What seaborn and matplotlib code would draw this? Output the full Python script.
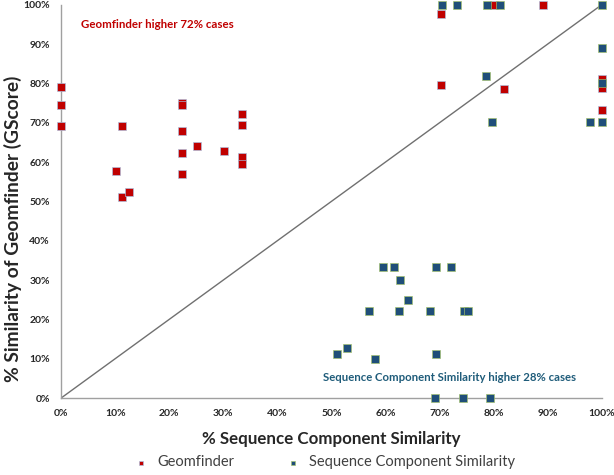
import pandas as pd
import matplotlib
matplotlib.use("Agg")
import matplotlib.pyplot as plt
import seaborn as sns

# Geomfinder points (x = % sequence component similarity, y = % geomfinder score)
geom_x = [0, 0, 0, 11.3, 22.3, 22.3, 22.3, 25.1, 22.3, 30.2, 22.3, 33.5, 33.5,
          33.5, 33.5, 10.1, 11.3, 12.6, 80.1, 89.1, 70.2, 70.2, 82.0, 100, 100, 100]
geom_y = [79.2, 74.4, 69.1, 69.1, 75.1, 74.4, 68.0, 64.0, 62.3, 62.7, 56.9, 72.1, 69.3,
          61.4, 59.5, 57.8, 51.0, 52.5, 100, 100, 97.7, 79.6, 78.5, 81.2, 78.8, 73.3]

# Sequence Component Similarity points
seq_x = [70.4, 73.3, 78.8, 81.1, 100, 100, 78.6, 100, 79.7, 97.8, 100,
         59.6, 61.5, 69.3, 72.2, 62.7, 64.1, 57.0, 62.5, 68.2, 74.5, 75.3,
         51.1, 52.8, 58.0, 69.3, 69.1, 74.4, 79.4]
seq_y = [100, 100, 100, 100, 100, 89.1, 81.9, 80.2, 70.2, 70.2, 70.2,
         33.3, 33.3, 33.3, 33.3, 30.1, 25.0, 22.2, 22.2, 22.2, 22.2, 22.2,
         11.1, 12.6, 10.0, 11.1, 0, 0, 0]

ticks = [0, 10, 20, 30, 40, 50, 60, 70, 80, 90, 100]
tick_labels = [f"{t}%" for t in ticks]

df = pd.DataFrame({
    "x": geom_x + seq_x,
    "y": geom_y + seq_y,
    "series": ["Geomfinder"] * len(geom_x) + ["Sequence Component Similarity"] * len(seq_x),
})

sns.set_style("white")
plt.rcParams["font.family"] = ["Lato", "DejaVu Sans"]

fig = plt.figure(figsize=(6.14, 4.75), dpi=100)
ax = fig.add_axes([0.0995, 0.162, 0.8805, 0.828])

# diagonal reference line
ax.plot([0, 100], [0, 100], color="#707070", lw=1, zorder=1)

for name, col, edge in [("Geomfinder", "#C00000", "#A9C4E4"),
                        ("Sequence Component Similarity", "#1F4E79", "#A6C46A")]:
    sub = df[df["series"] == name]
    sns.scatterplot(data=sub, x="x", y="y", ax=ax, marker="s", s=30, color=col,
                    edgecolor=edge, linewidth=0.45, label=name, clip_on=False, zorder=3)

ax.set_xlim(0, 100)
ax.set_ylim(0, 100)
ax.set_xticks(ticks)
ax.set_xticklabels(tick_labels, fontsize=7.5, fontweight="bold")
ax.set_yticks(ticks)
ax.set_yticklabels(tick_labels, fontsize=7.5, fontweight="bold")
ax.tick_params(length=0, pad=8)

for s in ["top", "right"]:
    ax.spines[s].set_visible(False)
for s in ["left", "bottom"]:
    ax.spines[s].set_color("#A0A0A0")
    ax.spines[s].set_linewidth(1)

ax.set_xlabel("% Sequence Component Similarity", fontsize=12.2, fontweight="bold")
ax.xaxis.set_label_coords(0.5, -0.085)
ax.set_ylabel("% Similarity of Geomfinder (GScore)", fontsize=13.8, fontweight="bold")
ax.yaxis.set_label_coords(-0.072, 0.43)

ax.text(3.7, 95, "Geomfinder higher 72% cases", color="#C00000", fontsize=8.3,
        fontweight="bold", va="center")
ax.text(48.5, 5.1, "Sequence Component Similarity higher 28% cases", color="#1F5C7A",
        fontsize=8.2, fontweight="bold", va="center")

sns.move_legend(ax, "lower center", bbox_to_anchor=(0.48, -0.215), ncol=2, frameon=False,
                fontsize=10.5, handletextpad=0.1, columnspacing=3, markerscale=0.6, title=None)
for t in ax.get_legend().get_texts():
    t.set_color("#404040")

fig.savefig("out.png", dpi=100)
